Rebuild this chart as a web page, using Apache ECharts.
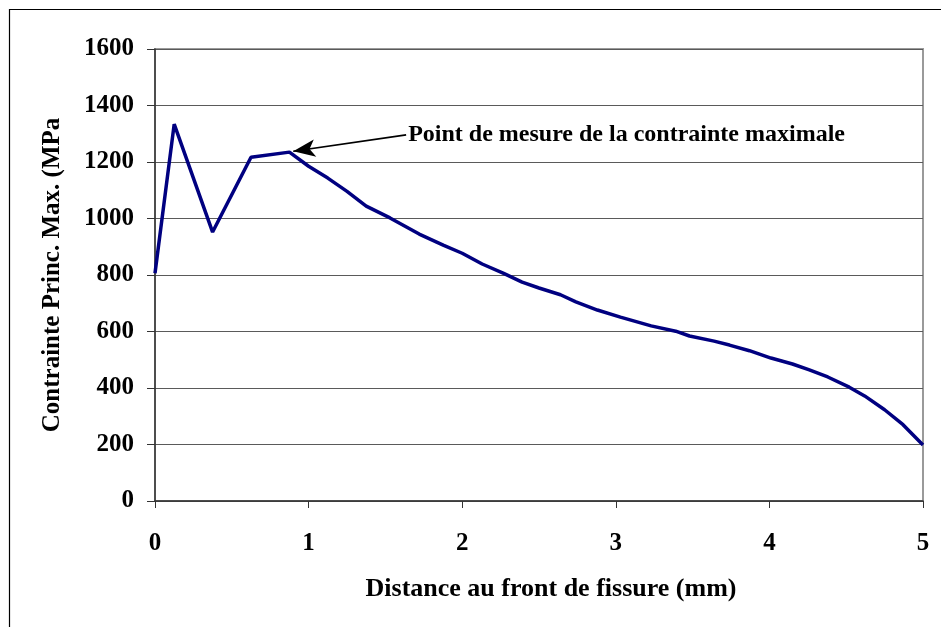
<!DOCTYPE html>
<html>
<head>
<meta charset="utf-8">
<style>
  html, body { margin: 0; padding: 0; background: #fff; }
  #chart { width: 941px; height: 627px; }
</style>
<script src="https://cdn.jsdelivr.net/npm/echarts@6/dist/echarts.min.js"></script>
</head>
<body>
<div id="chart"></div>
<script>
// Distance from the crack front (mm)
const distance = [0, 0.125, 0.375, 0.625, 0.875, 1.0, 1.125, 1.25, 1.375, 1.53, 1.72, 1.88, 2.0, 2.13,
  2.27, 2.39, 2.5, 2.64, 2.74, 2.88, 3.03, 3.23, 3.39, 3.48, 3.64, 3.74, 3.87, 4.01, 4.15, 4.26,
  4.38, 4.52, 4.62, 4.75, 4.87, 5.0];
// Maximum principal stress (MPa)
const stress = [806, 1334, 952, 1217, 1235, 1185, 1143, 1096, 1044, 1002, 945, 905, 877, 839,
  806, 775, 754, 730, 705, 676, 651, 620, 601, 584, 566, 552, 532, 506, 485, 464,
  439, 403, 372, 323, 270, 198];

const xTicks = [0, 1, 2, 3, 4, 5];
const yTicks = [0, 200, 400, 600, 800, 1000, 1200, 1400, 1600];

// Annotation: the measuring point and where its callout text sits
const measurePoint = [0.9, 1238];
const calloutAnchor = [1.635, 1296];
const calloutText = 'Point de mesure de la contrainte maximale';

const xName = 'Distance au front de fissure (mm)';
const yName = 'Contrainte Princ. Max. (MPa';

const FONT = '"Liberation Serif", "Times New Roman", serif';

const chart = echarts.init(document.getElementById('chart'), null, { renderer: 'canvas' });

chart.setOption({
  animation: false,
  backgroundColor: '#fff',
  graphic: [{
    type: 'rect',
    left: 7, top: 7,
    shape: { x: 0, y: 0, width: 950, height: 640 },
    style: { fill: 'none', stroke: '#000', lineWidth: 1.2 },
    silent: true
  }],
  grid: {
    left: 155, right: 18, top: 49, bottom: 126,
    show: true, borderColor: '#9a9a9a', borderWidth: 2, backgroundColor: 'transparent'
  },
  xAxis: {
    type: 'value',
    min: xTicks[0], max: xTicks[xTicks.length - 1], interval: 1,
    name: xName, nameLocation: 'middle', nameGap: 75,
    nameTextStyle: {
      fontFamily: FONT, fontWeight: 'bold', fontSize: 26, color: '#000',
      padding: [0, 0, 0, 24]
    },
    axisLine: { show: true, onZero: false, lineStyle: { color: '#333', width: 1.5 } },
    axisTick: { show: true, length: 7, lineStyle: { color: '#333', width: 1 } },
    axisLabel: {
      fontFamily: FONT, fontWeight: 'bold', fontSize: 25, color: '#000', margin: 30,
      formatter: v => String(v)
    },
    splitLine: { show: false }
  },
  yAxis: {
    type: 'value',
    min: yTicks[0], max: yTicks[yTicks.length - 1], interval: 200,
    name: yName, nameLocation: 'middle', nameGap: 90, nameRotate: 90,
    nameTextStyle: { fontFamily: FONT, fontWeight: 'bold', fontSize: 25, color: '#000' },
    axisLine: { show: true, onZero: false, lineStyle: { color: '#333', width: 1.5 } },
    axisTick: { show: true, length: 8, lineStyle: { color: '#333', width: 1 } },
    axisLabel: {
      fontFamily: FONT, fontWeight: 'bold', fontSize: 25, color: '#000', margin: 21,
      formatter: v => String(v)
    },
    splitLine: { show: true, lineStyle: { color: '#5a5a5a', width: 1 } }
  },
  series: [{
    type: 'line',
    data: distance.map((d, i) => [d, stress[i]]),
    showSymbol: false,
    symbol: 'none',
    lineStyle: { color: '#000080', width: 3.5 },
    clip: false,
    markLine: {
      silent: true,
      symbol: ['none', 'arrow'],
      symbolSize: [13, 22],
      lineStyle: { color: '#000', width: 1.6, type: 'solid' },
      label: { show: false },
      data: [[{ coord: calloutAnchor }, { coord: measurePoint }]]
    },
    markPoint: {
      silent: true,
      symbol: 'circle',
      symbolSize: 0,
      data: [{
        coord: calloutAnchor,
        label: {
          show: true, position: 'right', distance: 2,
          formatter: calloutText,
          fontFamily: FONT, fontWeight: 'bold', fontSize: 24, color: '#000'
        }
      }]
    }
  }]
});
</script>
</body>
</html>
